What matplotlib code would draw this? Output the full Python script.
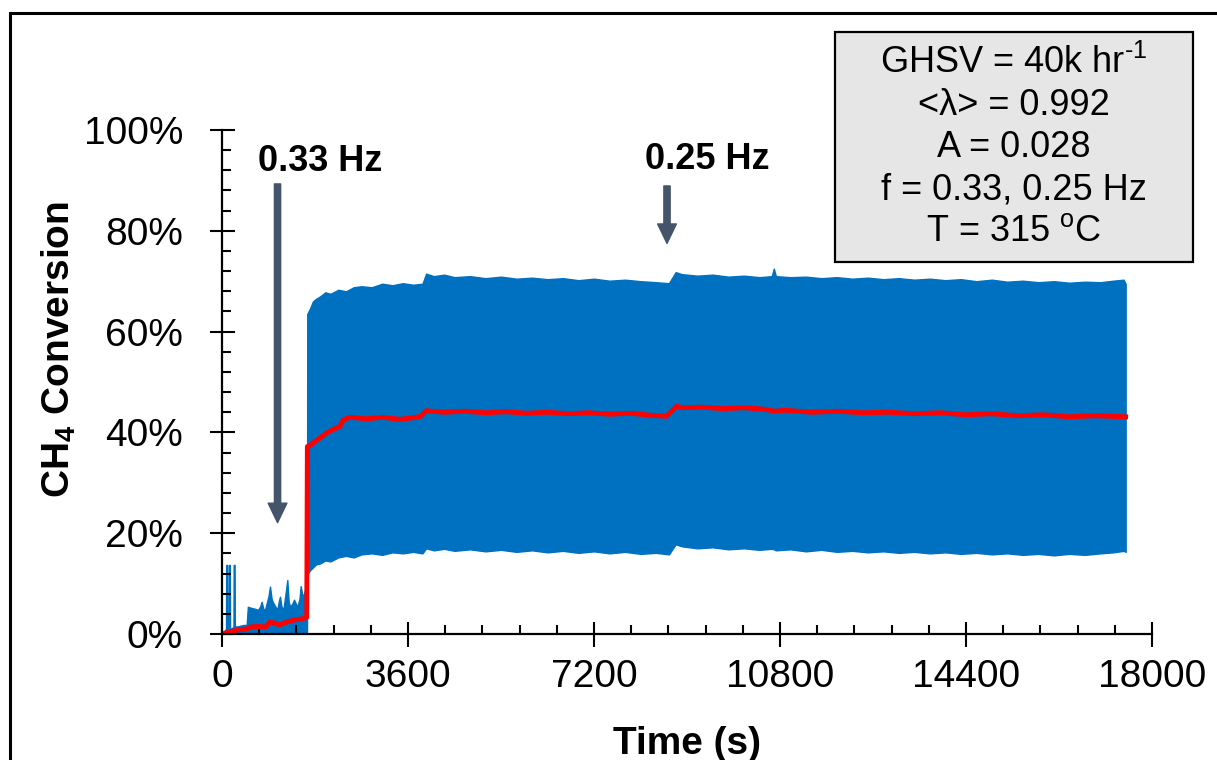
import matplotlib.pyplot as plt
import matplotlib.ticker as mtick
from matplotlib.patches import Rectangle

# Blue band envelope (raw CH4 conversion signal), % vs time in s
band_time = [0, 60, 78, 82, 100, 104, 125, 130, 134, 152, 156, 200, 222, 226, 244, 248, 300, 420,
             478, 500, 560, 640, 700, 740, 767, 800, 832, 900, 929, 960, 980,
             1030, 1070, 1100, 1122, 1150, 1187, 1230, 1264, 1290, 1316, 1360,
             1394, 1430, 1458, 1500, 1523, 1550, 1574, 1600, 1626, 1645,
             1650, 1700, 1760, 1820, 1900, 2000, 2100, 2250, 2400, 2550, 2700,
             2900, 3100, 3300, 3500, 3700, 3880, 3950, 4100, 4300, 4500, 4800,
             5100, 5400, 5700, 6000, 6300, 6600, 6900, 7200, 7500, 7800, 8100,
             8400, 8650, 8780, 8900, 9200, 9500, 9800, 10100, 10400, 10640,
             10680, 10720, 11000, 11300, 11600, 11900, 12200, 12500, 12800,
             13100, 13400, 13700, 14000, 14300, 14600, 14900, 15200, 15500,
             15800, 16100, 16400, 16700, 17000, 17250, 17450, 17490]
band_upper = [0, 0.8, 1.0, 13.7, 13.7, 1.0, 0.8, 1.0, 13.7, 13.7, 1.0, 1.2, 1.5, 13.7, 13.7, 1.5, 1.5, 1.8,
              1.8, 5.4, 5.2, 5.0, 4.8, 5.5, 6.4, 5.0, 4.8, 7.5, 9.4, 7.0, 6.4,
              5.5, 4.8, 6.5, 7.4, 5.5, 4.8, 8.0, 10.7, 6.5, 5.4, 6.0,
              6.8, 6.0, 5.4, 7.0, 9.5, 8.0, 7.4, 8.5, 9.4, 9.0,
              63.5, 64.5, 66.0, 66.5, 67.0, 67.8, 67.5, 68.3, 68.0, 68.8, 69.0,
              68.8, 69.5, 69.2, 69.6, 69.3, 69.5, 71.5, 71.0, 71.3, 70.8, 71.0,
              70.6, 70.9, 70.5, 70.7, 70.4, 70.6, 70.2, 70.5, 70.1, 70.3, 70.0,
              69.8, 69.6, 71.8, 71.4, 71.1, 71.3, 70.9, 71.1, 70.8, 71.0,
              72.5, 71.0, 70.8, 70.9, 70.6, 70.8, 70.5, 70.7, 70.4,
              70.6, 70.3, 70.5, 70.2, 70.4, 70.0, 70.3, 69.9, 70.1,
              69.8, 70.0, 69.7, 69.9, 69.8, 70.1, 70.3, 69.5]
band_lower = [0] * 52 + [
              11.8, 12.6, 13.2, 13.8, 14.0, 14.6, 14.4, 15.2, 15.5, 15.2, 15.8,
              16.0, 15.7, 16.2, 16.0, 16.3, 16.0, 17.0, 16.6, 16.9, 16.5, 16.8,
              16.4, 16.7, 16.3, 16.6, 16.2, 16.5, 16.1, 16.4, 16.0, 16.3, 15.9,
              16.1, 15.8, 17.8, 17.4, 17.0, 17.2, 16.8, 17.0, 16.7, 16.9,
              16.8, 16.6, 16.8, 16.4, 16.7, 16.3, 16.5, 16.2, 16.4,
              16.1, 16.3, 16.0, 16.2, 15.9, 16.1, 15.8, 16.0, 15.7,
              15.9, 15.6, 15.9, 15.7, 16.0, 16.2, 16.5, 16.3]

# Red line (mean CH4 conversion), % vs time in s
mean_time = [0, 100, 300, 478, 560, 700, 850, 929, 1000, 1122, 1200, 1264, 1400, 1550, 1640,
             1652, 1703, 1800, 1897, 2026, 2155, 2284, 2348, 2477, 2800, 3100, 3445, 3700,
             3850, 3950, 4300, 4700, 5100, 5500, 5900, 6300, 6700, 7100, 7500, 7900,
             8300, 8600, 8800, 8900, 9300, 9700, 10100, 10500, 10700, 10900, 11400,
             11900, 12400, 12900, 13400, 13900, 14400, 14900, 15400, 15900, 16400,
             16900, 17490]
mean_values = [0, 0.3, 0.8, 1.0, 1.4, 1.5, 1.4, 2.4, 2.2, 1.8, 2.2, 2.4, 2.8, 3.0, 3.3,
               37.2, 37.4, 38.2, 38.9, 39.9, 40.6, 41.2, 42.5, 43.0, 42.7, 43.0, 42.6, 42.9,
               43.2, 44.3, 44.0, 44.2, 43.9, 44.1, 43.8, 44.0, 43.7, 43.9, 43.6, 43.8,
               43.4, 43.2, 45.2, 44.9, 45.0, 44.7, 44.9, 44.6, 44.2, 44.4, 44.0,
               44.2, 43.9, 44.0, 43.7, 43.9, 43.5, 43.7, 43.3, 43.5, 43.1,
               43.3, 43.1]

X_TICKS = [0, 3600, 7200, 10800, 14400, 18000]
Y_TICKS = [0, 20, 40, 60, 80, 100]

INFO_LINES = [
    "GHSV = 40k hr$^{\\text{-}1}$",
    "<λ> = 0.992",
    "A = 0.028",
    "f = 0.33, 0.25 Hz",
    "T = 315 $^{\\mathrm{o}}$C",
]

plt.rcParams["font.family"] = ["Liberation Sans", "DejaVu Sans"]
plt.rcParams["mathtext.fontset"] = "custom"
plt.rcParams["mathtext.rm"] = "Liberation Sans"
plt.rcParams["mathtext.it"] = "Liberation Sans:italic"
plt.rcParams["mathtext.bf"] = "Liberation Sans:bold"

W, H = 1217, 760
fig = plt.figure(figsize=(W / 100, H / 100), dpi=100)
ax = fig.add_axes([222 / W, 1 - 634 / H, 930 / W, 504 / H])

ax.fill_between(band_time, band_lower, band_upper, color="#0070C0", linewidth=1.0,
                edgecolor="#0070C0")
ax.plot(mean_time, mean_values, color="#FF0000", linewidth=3.5)

ax.set_xlim(0, 18000)
ax.set_ylim(0, 100)
ax.set_xticks(X_TICKS)
ax.set_yticks(Y_TICKS)
ax.xaxis.set_minor_locator(mtick.MultipleLocator(720))
ax.yaxis.set_minor_locator(mtick.MultipleLocator(4))
ax.yaxis.set_major_formatter(mtick.PercentFormatter(xmax=100, decimals=0))

for side in ["top", "right"]:
    ax.spines[side].set_visible(False)
for side in ["left", "bottom"]:
    ax.spines[side].set_linewidth(1.6)

ax.tick_params(which="major", direction="inout", length=18, width=1.5, labelsize=28)
ax.tick_params(which="minor", direction="in", length=6.5, width=1.5)
ax.tick_params(axis="x", which="major", pad=9)
ax.tick_params(axis="y", which="major", pad=19)

ax.set_xlabel("Time (s)", fontsize=28, fontweight="bold", labelpad=22)
ax.set_ylabel("CH$_\\mathbf{4}$ Conversion", fontsize=28, fontweight="bold")
ax.yaxis.set_label_coords(-0.175, 0.5635)
ax.yaxis.label.set_va("center")

# frequency annotations
arrow_style = "simple,head_length=1.4,head_width=1.35,tail_width=0.45"
ax.annotate("", xy=(1075, 22.1), xytext=(1075, 89.3),
            arrowprops=dict(arrowstyle=arrow_style, color="#44546A", shrinkA=0, shrinkB=0,
                            mutation_scale=10))
ax.annotate("", xy=(8613, 77.5), xytext=(8613, 88.9),
            arrowprops=dict(arrowstyle=arrow_style, color="#44546A", shrinkA=0, shrinkB=0,
                            mutation_scale=10))
ax.text(1897, 91.85, "0.33 Hz", fontsize=26, fontweight="bold", ha="center", va="baseline")
ax.text(9387, 92.2, "0.25 Hz", fontsize=26, fontweight="bold", ha="center", va="baseline")

# conditions box
fig.patches.append(Rectangle((835 / W, 1 - 262 / H), 358 / W, 230 / H, transform=fig.transFigure,
                             facecolor="#E7E6E6", edgecolor="black", linewidth=1.6))
for i, line in enumerate(INFO_LINES):
    fig.text(1014 / W, 1 - (73 + 42 * i) / H, line, fontsize=26, ha="center", va="baseline")

# outer frame (cropped at right and bottom)
fig.patches.append(Rectangle((10 / W, -0.1), 1.2, 1.1 - 13 / H, transform=fig.transFigure,
                             facecolor="none", edgecolor="black", linewidth=2.2))

fig.savefig("out.png", dpi=100)
